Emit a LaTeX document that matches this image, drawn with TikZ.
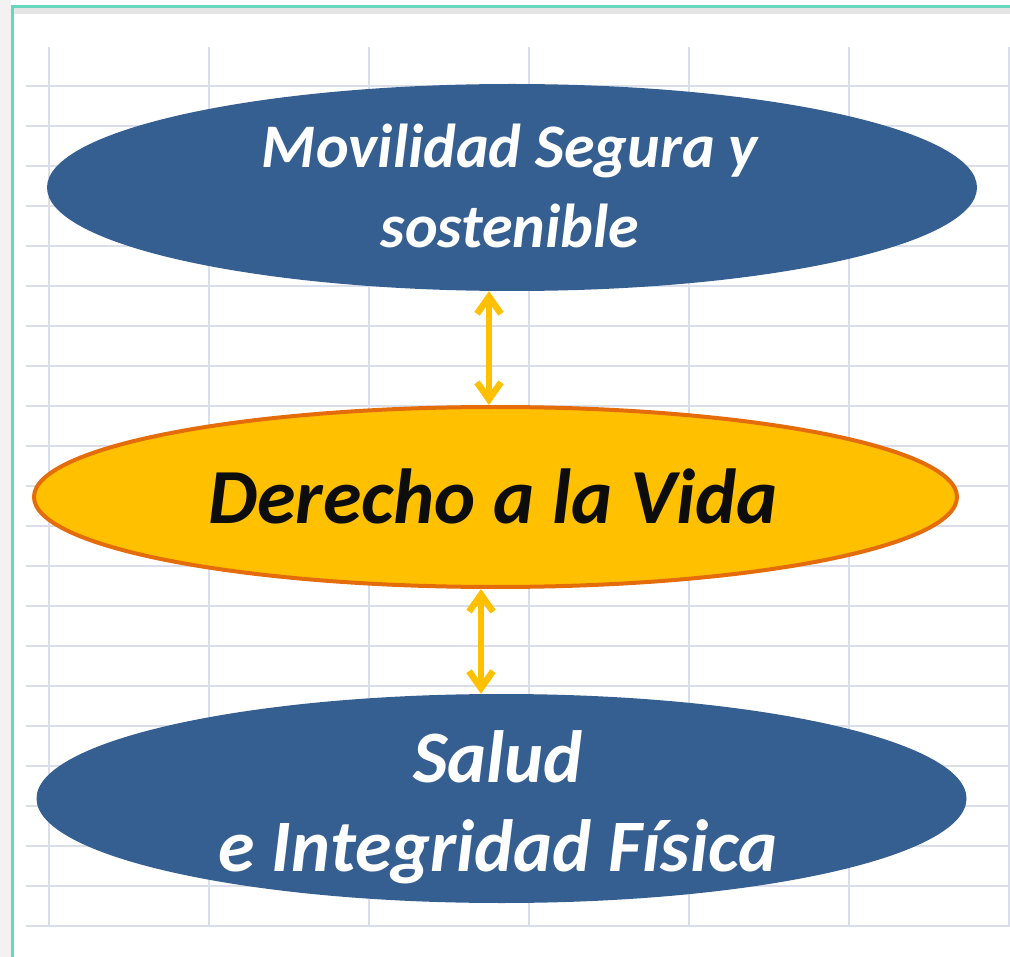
\documentclass[tikz,border=0pt]{standalone}
\usepackage{fontspec}
\setmainfont{Carlito}
\usetikzlibrary{shapes.geometric,arrows.meta}
\definecolor{ovalblue}{RGB}{54,95,145}
\definecolor{vidayellow}{RGB}{255,192,0}
\definecolor{vidaorange}{RGB}{228,108,10}
\definecolor{gridgray}{RGB}{217,222,234}
\definecolor{frameteal}{RGB}{102,214,190}
\tikzstyle{oval} = [ellipse, fill=ovalblue, minimum width=930pt, minimum height=207pt, inner sep=0pt]
\tikzstyle{vidaoval} = [ellipse, fill=vidayellow, draw=vidaorange, line width=4pt, minimum width=923pt, minimum height=180pt, inner sep=0pt]
\tikzstyle{ovaltext} = [text=white, align=center, inner sep=0pt]
\tikzstyle{gridline} = [draw=gridgray, line width=2pt]
\tikzstyle{line} = [draw=vidayellow, line width=6.5pt, {Straight Barb[length=17pt,width=24pt,line width=6.5pt]}-{Straight Barb[length=17pt,width=24pt,line width=6.5pt]}]

\begin{document}
\begin{tikzpicture}[x=1pt,y=-1pt]

\useasboundingbox (0,0) rectangle (1010,957);

% hoja de calculo
\fill[black!5] (0,0) rectangle (11,957);
\fill[black!10] (13,8) rectangle (1010,14);
\foreach \gy in {86,126,...,926} \draw[gridline] (26,\gy) -- (1010,\gy);
\foreach \gx in {49,209,...,1009} \draw[gridline] (\gx,47) -- (\gx,927);
\draw[frameteal, line width=3pt] (12,957) -- (12,7) -- (1010,7);

\node[oval](mov) at (512,187.5){};
\node[ovaltext, font=\fontsize{62}{80}\selectfont\bfseries\itshape](movtxt) at (510,186){Movilidad Segura y\\sostenible};
\node[vidaoval](vida) at (495.5,497){};
\node[ovaltext, text=black!95, font=\fontsize{78}{94}\selectfont\bfseries\itshape](vidatxt) at (493,496){Derecho a la Vida};
\path[line] (489,0 |- mov.south) -- (489,0 |- vida.north);
\node[oval, minimum height=209pt](salud) at (501.5,798.5){};
\node[ovaltext, font=\fontsize{74}{89}\selectfont\bfseries\itshape](saludtxt) at (498,807){Salud\\e Integridad Física};
\path[line] (481,0 |- vida.south) -- (481,0 |- salud.north);

\end{tikzpicture}
\end{document}
